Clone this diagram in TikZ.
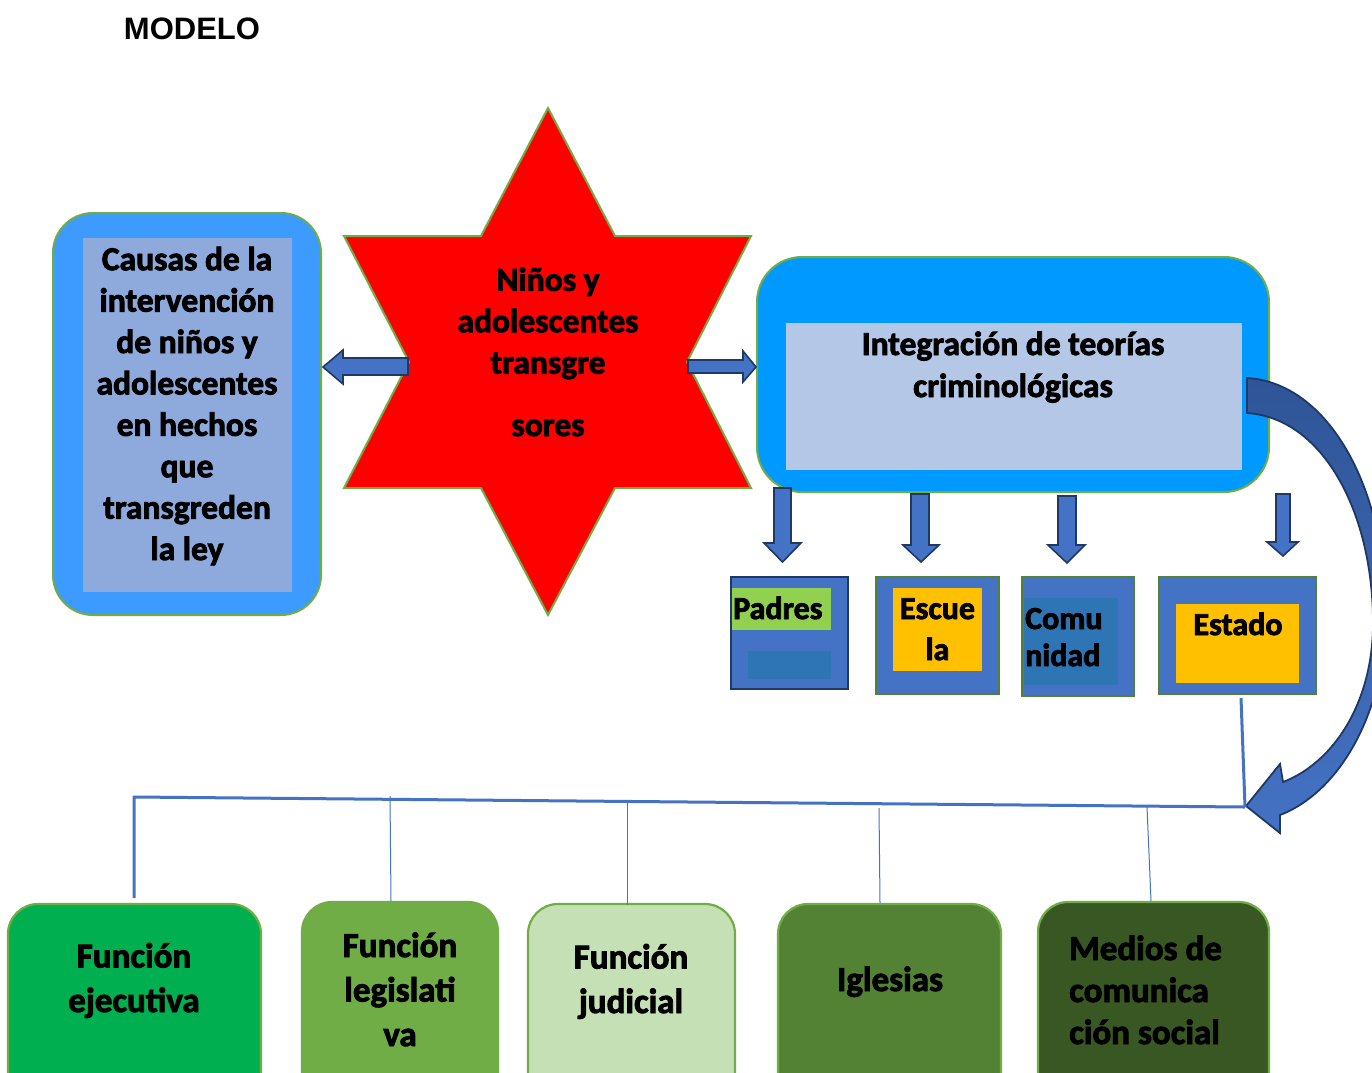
\documentclass[tikz,border=0pt]{standalone}
\usepackage{fontspec}
\setmainfont{Carlito}[BoldFeatures={FakeBold=2.5}]
\newfontfamily\titlefont{Liberation Sans}
\definecolor{leftblue}{HTML}{3D9BFF}
\definecolor{rightblue}{HTML}{0099FF}
\definecolor{leftinner}{HTML}{8EA9DB}
\definecolor{rightinner}{HTML}{B4C7E7}
\definecolor{edgegreen}{HTML}{70AD47}
\definecolor{darkedge}{HTML}{548235}
\definecolor{navy}{HTML}{1F3864}
\definecolor{arrowblue}{HTML}{4472C4}
\definecolor{arrowdark}{HTML}{2F5597}
\definecolor{midblue}{HTML}{2E75B6}
\definecolor{limegreen}{HTML}{92D050}
\definecolor{amber}{HTML}{FFC000}
\definecolor{gA}{HTML}{00B050}
\definecolor{gB}{HTML}{70AD47}
\definecolor{gC}{HTML}{C5E0B4}
\definecolor{gD}{HTML}{548235}
\definecolor{gE}{HTML}{385723}
\definecolor{starred}{HTML}{FF0000}
\begin{document}
\begin{tikzpicture}[x=1pt,y=-1pt,
  box/.style={rectangle,inner sep=0pt,outer sep=0pt},
  bigtext/.style={font=\bfseries\fontsize{33.5}{41.4}\selectfont,align=center,inner sep=0pt},
  smalltext/.style={font=\bfseries\fontsize{32}{37}\selectfont,inner sep=0pt},
  bottomtext/.style={font=\bfseries\fontsize{35}{44.5}\selectfont,inner sep=0pt},
  blockarrow/.style={fill=arrowblue,draw=navy,line width=1.6pt,line join=miter},
  busline/.style={draw=arrowblue,line width=3pt},
  thinline/.style={draw=arrowblue,line width=1pt},
  bottombox/.style={box,draw=edgegreen,line width=2.2pt,rounded corners=30pt}]
\useasboundingbox (0,0) rectangle (1372,1072);
\fill[white] (0,0) rectangle (1372,1072);
\begin{scope}
\clip (0,0) rectangle (1372,1072);

% title
\node[font=\titlefont\bfseries\fontsize{31}{37}\selectfont,anchor=base,inner sep=0pt] (title) at (192,39) {MODELO};

% left box
\node[box,fill=leftblue,draw=edgegreen,line width=2pt,rounded corners=40pt,minimum width=268pt,minimum height=402pt] (causasout) at (187,414) {};
\node[box,fill=leftinner,minimum width=209pt,minimum height=354pt] (causasin) at (187.5,415) {};
\node[bigtext,anchor=base] (causastxt) at (187,560) {Causas de la\\intervención\\de niños y\\adolescentes\\en hechos\\que\\transgreden\\la ley};

% star
\coordinate (star) at (548,362);
\draw[fill=starred,draw=edgegreen,line width=2pt,line join=miter]
 (548,108) -- (615,236) -- (751,236) -- (687,362) -- (751,488) -- (615,488) -- (548,615)
 -- (481,488) -- (344,488) -- (409,362) -- (344,236) -- (481,236) -- cycle;
\node[bigtext,anchor=base] (startxt) at (548,436) {Niños y\\adolescentes\\transgre\\[21pt]sores};

% right box
\node[box,fill=rightblue,draw=edgegreen,line width=2pt,rounded corners=45pt,minimum width=512pt,minimum height=235pt] (integout) at (1013,374.5) {};
\node[box,fill=rightinner,minimum width=456pt,minimum height=147pt] (integin) at (1014,396.5) {};
\node[bigtext,anchor=base] (integtxt) at (1013,397) {Integración de teorías\\[0.6pt]criminológicas};

% side arrows
\draw[blockarrow] (408,358) -- (343,358) -- (343,350) -- (323,367) -- (343,384) -- (343,375) -- (408,375) -- cycle;
\draw[blockarrow] (688,360) -- (743,360) -- (743,351) -- (756,367) -- (743,382) -- (743,373) -- (688,373) -- cycle;

% down arrows
\draw[blockarrow] (774,488) -- (791,488) -- (791,543) -- (801,543) -- (782.5,562) -- (764,543) -- (774,543) -- cycle;
\draw[blockarrow] (911,494) -- (929,494) -- (929,545) -- (939,545) -- (921,562) -- (903,545) -- (911,545) -- cycle;
\draw[blockarrow] (1058,496) -- (1076,496) -- (1076,545) -- (1085,545) -- (1067,563) -- (1048,545) -- (1058,545) -- cycle;
\draw[blockarrow] (1276,494) -- (1290,494) -- (1290,542) -- (1298,542) -- (1283,556) -- (1267,542) -- (1276,542) -- cycle;

% small boxes
\node[box,fill=arrowblue,draw=navy,line width=2.6pt,minimum width=117pt,minimum height=112pt] (padres) at (789.5,633) {};
\node[box,fill=limegreen,minimum width=99pt,minimum height=42pt] (padresA) at (781.5,609) {};
\node[box,fill=midblue,minimum width=83pt,minimum height=28pt] (padresB) at (789.5,665) {};
\node[smalltext,anchor=base west] (padrestxt) at (733,619) {Padres};

\node[box,fill=arrowblue,draw=darkedge,line width=2.2pt,minimum width=123pt,minimum height=117pt] (escuela) at (937.5,635.5) {};
\node[box,fill=amber,minimum width=89pt,minimum height=83pt] (escuelaA) at (937.5,629.5) {};
\node[smalltext,align=center,anchor=base] (escuelatxt) at (937.5,660) {Escue\\[4pt]la};

\node[box,fill=arrowblue,draw=darkedge,line width=2.2pt,minimum width=112pt,minimum height=119pt] (comunidad) at (1078,636.5) {};
\node[box,fill=midblue,minimum width=94pt,minimum height=87pt] (comunidadA) at (1071,641.5) {};
\node[smalltext,align=left,anchor=base west] (comunidadtxt) at (1025,666) {Comu\\nidad};

\node[box,fill=arrowblue,draw=darkedge,line width=2.2pt,minimum width=157pt,minimum height=117pt] (estado) at (1237.5,635.5) {};
\node[box,fill=amber,minimum width=123pt,minimum height=79pt] (estadoA) at (1237.5,643.5) {};
\node[smalltext,anchor=base] (estadotxt) at (1238,635) {Estado};

% curved arrow
\shade[top color=arrowdark,bottom color=arrowblue,draw=navy,line width=1.8pt,line join=miter]
 (1247,378) .. controls (1320,382) and (1380,470) .. (1386,600)
 .. controls (1390,700) and (1345,790) .. (1280,815)
 -- (1280,833) -- (1246,806) -- (1280,764) -- (1283,782)
 .. controls (1335,762) and (1374,700) .. (1373,620)
 .. controls (1372,510) and (1322,418) .. (1247,413) -- cycle;

% bus lines
\coordinate (busL) at (134,797);
\coordinate (busR) at (1245,807);
\coordinate (estadoDrop) at (1241,698);
\draw[busline] (estadoDrop) -- (busR);
\draw[busline] (134,898) -- (busL) -- (busR);

% bottom boxes
\node[bottombox,fill=gA,minimum width=253pt,minimum height=206pt] (b1) at (134.5,1007) {};
\node[bottombox,fill=gB,minimum width=196pt,minimum height=208pt] (b2) at (400,1006) {};
\node[bottombox,fill=gC,minimum width=207pt,minimum height=206pt] (b3) at (631.5,1007) {};
\node[bottombox,fill=gD,minimum width=223pt,minimum height=206pt] (b4) at (889.5,1007) {};
\node[bottombox,fill=gE,minimum width=231pt,minimum height=208pt] (b5) at (1153.5,1006) {};

\coordinate (t2) at (390,796);
\coordinate (t3) at (627,802);
\coordinate (t4) at (879,808);
\coordinate (t5) at (1147,807);
\draw[thinline] (t2) -- (391,901);
\draw[thinline] (t3) -- (627,905);
\draw[thinline] (t4) -- (880,903);
\draw[thinline] (t5) -- (1151,901);

\node[bottomtext,align=center,anchor=base] (b1txt) at (134,1012) {Función\\ejecutiva};
\node[bottomtext,align=center,anchor=base] (b2txt) at (400,1046) {Función\\legislati\\va};
\node[bottomtext,align=center,anchor=base] (b3txt) at (631,1013) {Función\\judicial};
\node[bottomtext,align=center,anchor=base] (b4txt) at (890,991) {Iglesias};
\node[bottomtext,align=left,anchor=base west,font=\bfseries\fontsize{35}{42}\selectfont] (b5txt) at (1069,1044) {Medios de\\comunica\\ción social};
\end{scope}
\end{tikzpicture}
\end{document}
